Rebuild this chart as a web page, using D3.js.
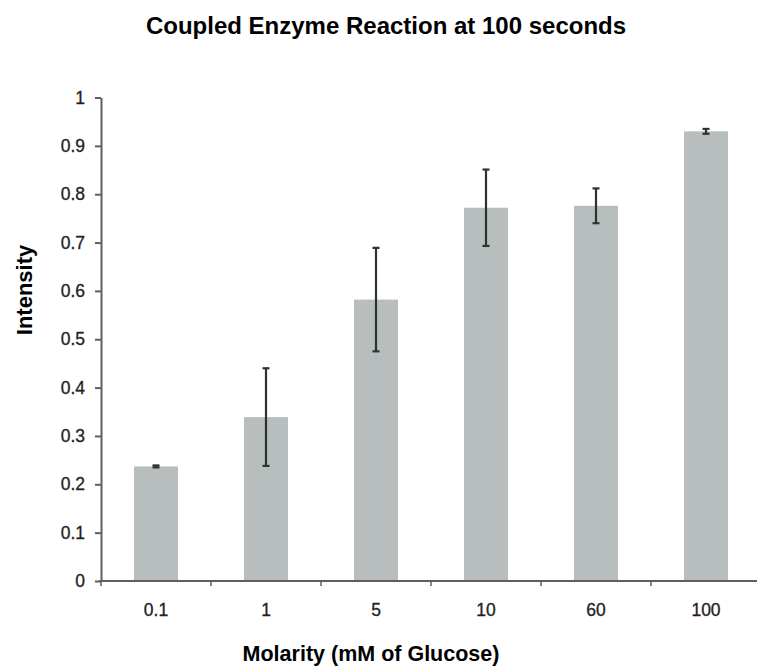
<!DOCTYPE html>
<html>
<head>
<meta charset="utf-8">
<script src="https://cdn.jsdelivr.net/npm/d3@7"></script>
<style>
body{margin:0;background:#fff;}
svg{display:block;font-family:"Liberation Sans",Arial,sans-serif;}
</style>
</head>
<body>
<div class="chart"></div>
<script>
// data
var categories=['0.1','1','5','10','60','100'];
var intensity=[0.237,0.339,0.582,0.772,0.776,0.930];
var errors=[0.002,0.101,0.107,0.079,0.036,0.005];
var yTicks=[0,0.1,0.2,0.3,0.4,0.5,0.6,0.7,0.8,0.9,1];

var width=757;
var height=668;
var left=101;
var top0=97.5;
var bottom=581;

var data=categories.map(function(c,i){
	return {cat:c,value:intensity[i],err:errors[i]};
});

var svg=d3.select('div.chart')
		.append('svg')
		.attr('width',width)
		.attr('height',height);

var xScale=d3.scaleBand()
			.domain(categories)
			.range([left,left+660])
			.paddingInner(0.6)
			.paddingOuter(0.3);
var yScale=d3.scaleLinear()
			.domain([0,1])
			.range([bottom,top0]);

// bars
svg.selectAll('.bar')
	.data(data)
	.enter()
	.append('rect')
	.attr('class','bar')
	.attr('x',function(d){return xScale(d.cat);})
	.attr('y',function(d){return yScale(d.value);})
	.attr('width',xScale.bandwidth())
	.attr('height',function(d){return yScale(0)-yScale(d.value);})
	.attr('fill','#b8bebd');

// error bars
var eb=svg.selectAll('.err')
	.data(data)
	.enter()
	.append('g')
	.attr('class','err')
	.attr('stroke','#2e3332')
	.attr('stroke-width',2.2);
eb.append('line')
	.attr('x1',function(d){return xScale(d.cat)+xScale.bandwidth()/2;})
	.attr('x2',function(d){return xScale(d.cat)+xScale.bandwidth()/2;})
	.attr('y1',function(d){return yScale(d.value+d.err);})
	.attr('y2',function(d){return yScale(d.value-d.err);});
[1,-1].forEach(function(s){
	eb.append('line')
		.attr('x1',function(d){return xScale(d.cat)+xScale.bandwidth()/2-3.5;})
		.attr('x2',function(d){return xScale(d.cat)+xScale.bandwidth()/2+3.5;})
		.attr('y1',function(d){return yScale(d.value+s*d.err);})
		.attr('y2',function(d){return yScale(d.value+s*d.err);});
});

// y axis
var yAxis=svg.append('g')
	.attr('transform','translate('+left+',0)')
	.call(d3.axisLeft(yScale)
		.tickValues(yTicks)
		.tickFormat(function(d){return d;})
		.tickSize(6)
		.tickSizeOuter(0)
		.tickPadding(10));
yAxis.select('.domain').attr('stroke','#5f5f5f').attr('stroke-width',2);
yAxis.selectAll('.tick line').attr('stroke','#5f5f5f').attr('stroke-width',2);
yAxis.selectAll('.tick text')
	.attr('fill','#222')
	.attr('stroke','#222')
	.attr('stroke-width',0.3)
	.attr('font-size','17.5px');

// x axis with ticks between the categories
var step=xScale.step();
var bounds=d3.range(categories.length+1).map(function(i){
	return xScale(categories[0])-step*0.3+i*step;
});
var xAxis=svg.append('g')
	.attr('transform','translate(0,'+bottom+')')
	.call(d3.axisBottom(xScale)
		.tickSize(0)
		.tickSizeOuter(0)
		.tickPadding(23));
xAxis.select('.domain').remove();
xAxis.append('line')
	.attr('x1',left-2)
	.attr('x2',bounds[bounds.length-1])
	.attr('stroke','#5f5f5f')
	.attr('stroke-width',2);
xAxis.selectAll('.bound')
	.data(bounds)
	.enter()
	.append('line')
	.attr('class','bound')
	.attr('x1',function(d){return d;})
	.attr('x2',function(d){return d;})
	.attr('y1',0)
	.attr('y2',5)
	.attr('stroke','#5f5f5f')
	.attr('stroke-width',1.5);
xAxis.selectAll('.tick text')
	.attr('fill','#222')
	.attr('stroke','#222')
	.attr('stroke-width',0.3)
	.attr('font-size','17.5px');

// titles
svg.append('text')
	.attr('x',386)
	.attr('y',34)
	.attr('text-anchor','middle')
	.attr('font-size','24px')
	.attr('font-weight','bold')
	.text('Coupled Enzyme Reaction at 100 seconds');

svg.append('text')
	.attr('x',371)
	.attr('y',661)
	.attr('text-anchor','middle')
	.attr('font-size','21.5px')
	.attr('font-weight','bold')
	.text('Molarity (mM of Glucose)');

svg.append('text')
	.attr('transform','translate(32,290) rotate(-90)')
	.attr('text-anchor','middle')
	.attr('font-size','22px')
	.attr('font-weight','bold')
	.text('Intensity');
</script>
</body>
</html>
